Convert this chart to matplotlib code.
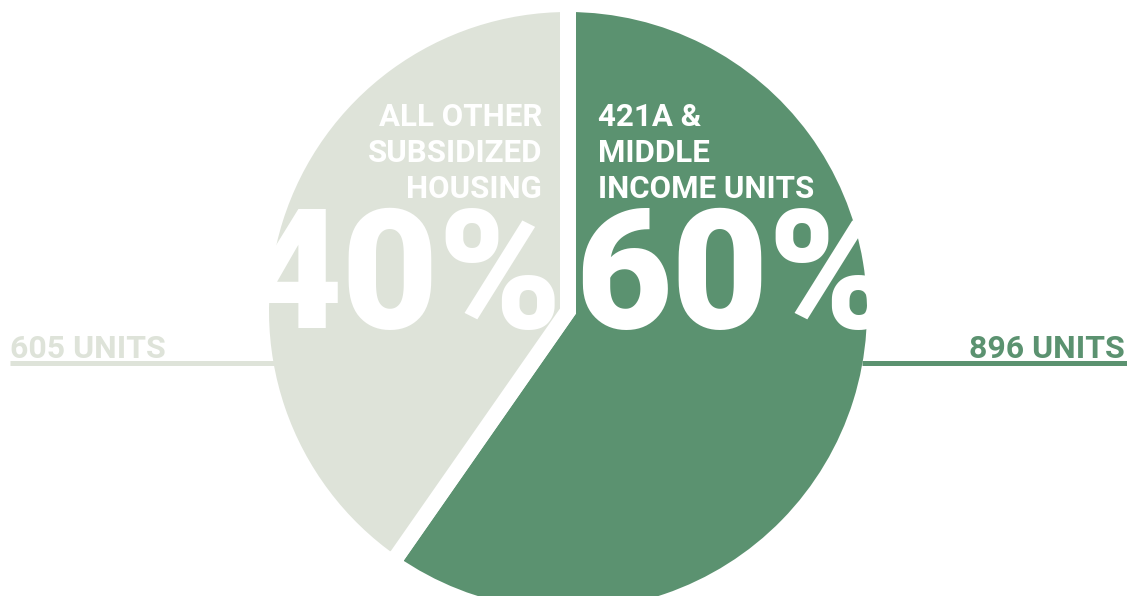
import matplotlib.pyplot as plt

categories = ["421A &\nMIDDLE\nINCOME UNITS", "ALL OTHER\nSUBSIDIZED\nHOUSING"]
units = [896, 605]
pct_labels = ["60%", "40%"]
unit_labels = ["896 UNITS", "605 UNITS"]
colors = ["#5B9270", "#DEE3D9"]

W, H = 1127, 596
fig = plt.figure(figsize=(W / 100, H / 100), dpi=100)
ax = fig.add_axes([0, 0, 1, 1])

def Y(py):
    return H - py

cx, cy, r = 568, 311, 299
gap = 16  # px
lw_pt = gap * 72 / 100
ax.pie(units, colors=colors, startangle=90, counterclock=False,
       center=(cx, Y(cy)), radius=r + gap / 2,
       wedgeprops=dict(edgecolor='white', linewidth=lw_pt), frame=True)
ax.set_xlim(0, W)
ax.set_ylim(0, H)
ax.set_aspect('equal')
ax.axis('off')

font = 'Roboto'
# category labels
ax.text(598, Y(102), categories[0], color='white', fontsize=22.5, fontweight='bold',
        family=font, ha='left', va='top', linespacing=1.25)
ax.text(542, Y(102), categories[1], color='white', fontsize=22.5, fontweight='bold',
        family=font, ha='right', va='top', linespacing=1.25, multialignment='right')

# big percentages
ax.text(575, Y(328), pct_labels[0], color='white', fontsize=120, fontweight='black',
        family=font, ha='left', va='baseline')
ax.text(562, Y(328), pct_labels[1], color='white', fontsize=120, fontweight='black',
        family=font, ha='right', va='baseline')

# unit labels with underline
ax.plot([cx + 294, W], [Y(363), Y(363)], color=colors[0], lw=3.6, solid_capstyle='butt', zorder=3)
ax.text(1125, Y(358), unit_labels[0], color=colors[0], fontsize=23, fontweight='bold',
        family=font, ha='right', va='baseline')
ax.plot([10, cx - 294], [Y(363), Y(363)], color=colors[1], lw=3.6, solid_capstyle='butt', zorder=3)
ax.text(10, Y(358), unit_labels[1], color=colors[1], fontsize=23, fontweight='bold',
        family=font, ha='left', va='baseline')

fig.savefig('out.png', dpi=100, facecolor='white')
